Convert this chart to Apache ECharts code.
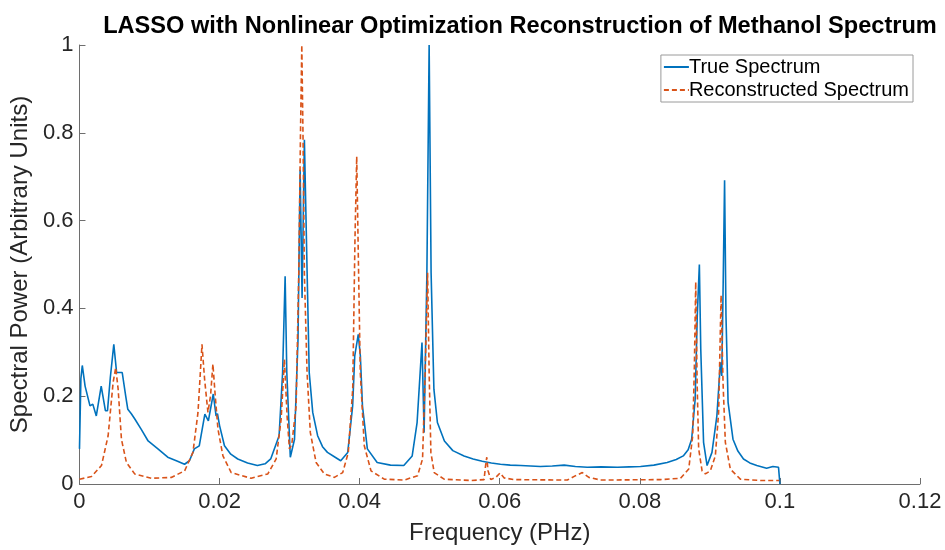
<!DOCTYPE html>
<html>
<head>
<meta charset="utf-8">
<script src="https://cdn.jsdelivr.net/npm/echarts@6/dist/echarts.min.js"></script>
<style>html,body{margin:0;padding:0;background:#fff}#c{width:945px;height:550px}</style>
</head>
<body>
<div id="c"></div>
<script>
const titleText = 'LASSO with Nonlinear Optimization Reconstruction of Methanol Spectrum';
const xTicks = [0, 0.02, 0.04, 0.06, 0.08, 0.1, 0.12];
const yTicks = [0, 0.2, 0.4, 0.6, 0.8, 1];
const seriesNames = ['True Spectrum', 'Reconstructed Spectrum'];

const trueFreq = [0.0000,0.0002,0.0004,0.0008,0.0015,0.0019,0.0024,0.0031,0.0037,0.0040,0.0044,0.0049,0.0053,0.0058,0.0061,0.0066,0.0069,0.0074,0.0079,0.0088,0.0098,0.0112,0.0126,0.0140,0.0150,0.0157,0.0164,0.0171,0.0179,0.0184,0.0191,0.0195,0.0197,0.0200,0.0207,0.0216,0.0226,0.0240,0.0254,0.0265,0.0273,0.0285,0.0290,0.02936,0.0296,0.0301,0.0307,0.0312,0.03150,0.03178,0.03211,0.0325,0.0328,0.0333,0.0340,0.0347,0.0354,0.0365,0.0373,0.0383,0.0390,0.0393,0.0398,0.0401,0.0404,0.0411,0.0425,0.0444,0.0463,0.0475,0.0482,0.0489,0.0492,0.0496,0.04992,0.0502,0.0506,0.0511,0.0521,0.0533,0.0549,0.0562,0.0575,0.0588,0.0601,0.0615,0.0630,0.0644,0.0658,0.0675,0.0692,0.0708,0.0725,0.0745,0.0768,0.0785,0.0801,0.0820,0.0839,0.0852,0.0862,0.0869,0.0874,0.0879,0.0882,0.0885,0.0887,0.0891,0.0896,0.0903,0.0910,0.0915,0.0917,0.0919,0.0921,0.0923,0.0926,0.0933,0.0940,0.0948,0.0957,0.0967,0.0981,0.0990,0.0998,0.1000];
const trueVal = [0.08,0.24,0.27,0.223,0.178,0.182,0.155,0.223,0.167,0.167,0.242,0.318,0.254,0.254,0.254,0.200,0.170,0.160,0.148,0.125,0.098,0.080,0.061,0.052,0.045,0.053,0.080,0.087,0.159,0.144,0.205,0.155,0.160,0.133,0.087,0.068,0.057,0.048,0.042,0.046,0.057,0.110,0.254,0.473,0.254,0.061,0.102,0.330,0.716,0.424,0.784,0.481,0.254,0.163,0.110,0.085,0.072,0.061,0.053,0.072,0.178,0.292,0.341,0.292,0.178,0.080,0.049,0.043,0.042,0.064,0.140,0.322,0.117,0.481,1.0,0.481,0.216,0.140,0.098,0.076,0.064,0.057,0.052,0.048,0.045,0.043,0.042,0.041,0.040,0.041,0.043,0.040,0.038,0.039,0.038,0.039,0.040,0.043,0.049,0.056,0.064,0.078,0.102,0.193,0.383,0.50,0.307,0.095,0.042,0.072,0.155,0.277,0.246,0.458,0.692,0.383,0.186,0.102,0.075,0.057,0.048,0.042,0.036,0.040,0.038,0.0];

const reconFreq = [0.0000,0.00171,0.00314,0.00409,0.00480,0.00517,0.00552,0.00599,0.00670,0.00788,0.01026,0.01311,0.01501,0.01620,0.01692,0.01749,0.01786,0.01834,0.01871,0.01905,0.01938,0.01977,0.02048,0.02166,0.02451,0.02689,0.02808,0.02879,0.02926,0.02964,0.02997,0.03031,0.03093,0.03131,0.03154,0.03174,0.03192,0.03211,0.03249,0.03296,0.03378,0.03496,0.03639,0.03758,0.03838,0.03901,0.03933,0.03958,0.03981,0.04009,0.04066,0.04162,0.04351,0.04636,0.04827,0.04898,0.04935,0.04970,0.04992,0.05017,0.05064,0.05206,0.05587,0.05776,0.05800,0.05815,0.05833,0.05872,0.05943,0.06004,0.06061,0.06204,0.06965,0.07083,0.07179,0.07273,0.07440,0.08295,0.08580,0.08698,0.08755,0.08779,0.08798,0.08818,0.08840,0.08889,0.08936,0.09007,0.09078,0.09125,0.09160,0.09188,0.09221,0.09292,0.09435,0.09720,0.09990];
const reconVal = [0.011,0.017,0.042,0.110,0.231,0.265,0.216,0.102,0.049,0.023,0.013,0.015,0.030,0.072,0.163,0.318,0.239,0.163,0.201,0.273,0.201,0.125,0.064,0.026,0.013,0.023,0.057,0.148,0.284,0.155,0.080,0.090,0.178,0.481,0.784,1.0,0.784,0.480,0.254,0.117,0.049,0.023,0.015,0.026,0.072,0.216,0.557,0.746,0.519,0.254,0.087,0.030,0.011,0.009,0.019,0.057,0.254,0.481,0.254,0.072,0.026,0.011,0.008,0.010,0.045,0.061,0.030,0.010,0.015,0.025,0.014,0.010,0.009,0.019,0.026,0.015,0.009,0.010,0.013,0.034,0.110,0.269,0.46,0.231,0.080,0.030,0.023,0.030,0.064,0.163,0.43,0.231,0.095,0.034,0.011,0.008,0.008];

const pairs = (xs, ys) => xs.map((x, i) => [x, ys[i]]);
const fmt = v => String(+v.toFixed(2));
const font = "'Liberation Sans', Arial, Helvetica, sans-serif";
const axisCol = '#6e6e6e';

const chart = echarts.init(document.getElementById('c'), null, {renderer: 'canvas'});
chart.setOption({
  animation: false,
  backgroundColor: '#ffffff',
  title: {
    text: titleText, left: 515, top: 9, textAlign: 'center',
    textStyle: {fontFamily: font, fontWeight: 'bold', fontSize: 23.6, color: '#000'}
  },
  legend: {
    orient: 'vertical', right: 32, top: 55,
    data: seriesNames,
    itemWidth: 25, itemHeight: 12, itemGap: 3,
    padding: [2, 4, 2, 2],
    borderColor: '#9a9a9a', borderWidth: 1, borderRadius: 0,
    backgroundColor: '#fff',
    itemStyle: {opacity: 0},
    textStyle: {fontFamily: font, fontSize: 20, color: '#000', padding: [0, 0, 0, -5]}
  },
  grid: {left: 78, right: 25, top: 45, bottom: 65, containLabel: false},
  xAxis: {
    type: 'value', min: xTicks[0], max: xTicks[xTicks.length - 1], interval: 0.02,
    name: 'Frequency (PHz)', nameLocation: 'middle', nameGap: 37,
    nameTextStyle: {fontFamily: font, fontSize: 24, color: '#262626'},
    axisLine: {show: true, onZero: false, lineStyle: {color: axisCol, width: 1}},
    axisTick: {show: true, inside: true, length: 6, lineStyle: {color: axisCol}},
    axisLabel: {fontFamily: font, fontSize: 22, color: '#262626', margin: 7, formatter: fmt},
    splitLine: {show: false}
  },
  yAxis: {
    type: 'value', min: yTicks[0], max: yTicks[yTicks.length - 1], interval: 0.2,
    name: 'Spectral Power (Arbitrary Units)', nameLocation: 'middle', nameGap: 40,
    nameTextStyle: {fontFamily: font, fontSize: 24, color: '#262626'},
    axisLine: {show: true, onZero: false, lineStyle: {color: axisCol, width: 1}},
    axisTick: {show: true, inside: true, length: 6, lineStyle: {color: axisCol}},
    axisLabel: {fontFamily: font, fontSize: 22, color: '#262626', margin: 6, formatter: fmt},
    splitLine: {show: false}
  },
  series: [
    {
      name: seriesNames[0], type: 'line', data: pairs(trueFreq, trueVal),
      symbol: 'none', smooth: false, z: 2,
      lineStyle: {color: '#0072BD', width: 1.6},
      itemStyle: {color: '#0072BD'}
    },
    {
      name: seriesNames[1], type: 'line', data: pairs(reconFreq, reconVal),
      symbol: 'none', smooth: false, z: 3,
      lineStyle: {color: '#D95319', width: 1.6, type: [5, 3]},
      itemStyle: {color: '#D95319'}
    }
  ]
});
</script>
</body>
</html>
